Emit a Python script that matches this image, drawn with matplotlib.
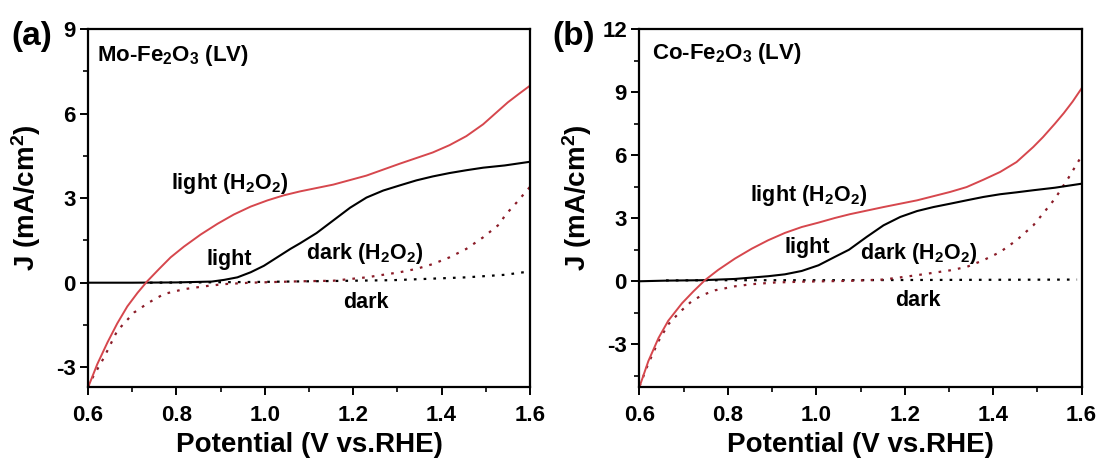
import matplotlib
matplotlib.use("Agg")
import matplotlib.pyplot as plt
from matplotlib.ticker import MultipleLocator

plt.rcParams.update({
    "font.family": "Liberation Sans",
    "font.weight": "bold",
    "mathtext.fontset": "custom",
    "mathtext.rm": "Liberation Sans:bold",
    "mathtext.bf": "Liberation Sans:bold",
    "mathtext.default": "bf",
})

RED = "#d6474d"
DARKRED = "#8b1c28"

# ---- Mo-Fe2O3 (LV) ----
a_v_lh = [0.600, 0.621, 0.644, 0.666, 0.689, 0.712, 0.734, 0.761, 0.787, 0.817, 0.855,
          0.893, 0.930, 0.968, 1.006, 1.043, 1.080, 1.155, 1.230, 1.305, 1.380, 1.418,
          1.456, 1.494, 1.532, 1.550, 1.575, 1.600]
a_light_h2o2 = [-3.72, -2.89, -2.12, -1.45, -0.84, -0.36, 0.05, 0.49, 0.90, 1.28, 1.71,
                2.09, 2.42, 2.70, 2.92, 3.10, 3.24, 3.48, 3.80, 4.22, 4.62, 4.88,
                5.20, 5.62, 6.15, 6.40, 6.70, 6.99]

a_v_l = [0.600, 0.700, 0.800, 0.880, 0.908, 0.938, 0.968, 0.998, 1.028, 1.058, 1.080,
         1.117, 1.155, 1.193, 1.230, 1.268, 1.305, 1.343, 1.380, 1.418, 1.456, 1.494,
         1.543, 1.600]
a_light = [0.00, 0.00, 0.01, 0.04, 0.10, 0.19, 0.37, 0.60, 0.90, 1.20, 1.40,
           1.76, 2.21, 2.66, 3.02, 3.27, 3.45, 3.63, 3.77, 3.89, 3.99, 4.08,
           4.16, 4.29]

a_v_dh = [0.600, 0.606, 0.636, 0.666, 0.704, 0.738, 0.772, 0.817, 0.862, 0.908, 0.968,
          1.080, 1.155, 1.230, 1.305, 1.343, 1.380, 1.418, 1.456, 1.494, 1.532, 1.543,
          1.570, 1.600]
a_dark_h2o2 = [-3.70, -3.49, -2.66, -1.71, -1.06, -0.70, -0.40, -0.23, -0.13, -0.05, 0.00,
               0.05, 0.07, 0.19, 0.37, 0.49, 0.66, 0.90, 1.20, 1.61, 2.09, 2.38,
               2.85, 3.40]

a_v_d = [0.740, 0.850, 1.000, 1.150, 1.290, 1.456, 1.543, 1.600]
a_dark = [0.00, 0.01, 0.03, 0.06, 0.09, 0.19, 0.28, 0.40]

# ---- Co-Fe2O3 (LV) ----
b_v_lh = [0.600, 0.620, 0.643, 0.665, 0.696, 0.722, 0.748, 0.778, 0.816, 0.854, 0.891,
          0.929, 0.967, 1.005, 1.042, 1.076, 1.152, 1.228, 1.303, 1.340, 1.378, 1.416,
          1.453, 1.491, 1.513, 1.540, 1.560, 1.580, 1.600]
b_light_h2o2 = [-5.02, -3.80, -2.70, -1.88, -1.05, -0.48, 0.05, 0.54, 1.08, 1.55, 1.95,
                2.30, 2.58, 2.79, 3.01, 3.19, 3.53, 3.85, 4.25, 4.48, 4.83, 5.20,
                5.67, 6.39, 6.86, 7.50, 8.00, 8.55, 9.17]

b_v_l = [0.600, 0.660, 0.740, 0.816, 0.891, 0.929, 0.967, 1.005, 1.042, 1.074, 1.114,
         1.152, 1.190, 1.228, 1.265, 1.303, 1.340, 1.378, 1.416, 1.453, 1.491, 1.540,
         1.600]
b_light = [0.00, 0.03, 0.05, 0.11, 0.24, 0.33, 0.49, 0.76, 1.16, 1.50, 2.11,
           2.66, 3.06, 3.34, 3.53, 3.69, 3.85, 4.01, 4.14, 4.23, 4.33, 4.45,
           4.64]

b_v_dh = [0.600, 0.620, 0.643, 0.665, 0.692, 0.718, 0.741, 0.771, 0.816, 0.854, 0.906,
          0.967, 1.076, 1.152, 1.228, 1.303, 1.340, 1.378, 1.416, 1.453, 1.491, 1.513,
          1.540, 1.570, 1.600]
b_dark_h2o2 = [-5.00, -3.91, -2.85, -2.05, -1.45, -0.95, -0.67, -0.43, -0.24, -0.14, -0.06,
               -0.02, 0.02, 0.08, 0.29, 0.52, 0.68, 1.00, 1.39, 1.95, 2.66, 3.22,
               3.93, 4.90, 5.95]

b_v_d = [0.660, 0.800, 1.000, 1.200, 1.400, 1.590]
b_dark = [0.04, 0.05, 0.05, 0.06, 0.07, 0.08]

fig = plt.figure(figsize=(11.02, 4.59), dpi=100)
W, H = 1102, 459


def px(x, y):
    return x / W, 1 - y / H


def draw_panel(left, curves, ylim, yticks):
    ax = fig.add_axes([left / W, 1 - 387 / H, 442 / W, 358 / H])
    (v_d, dark), (v_dh, dark_h2o2), (v_l, light), (v_lh, light_h2o2) = curves
    ax.plot(v_d, dark, color="black", lw=1.6, ls=(0, (1.2, 3.2)))
    ax.plot(v_dh, dark_h2o2, color=DARKRED, lw=1.6, ls=(0, (1.2, 3.2)))
    ax.plot(v_l, light, color="black", lw=1.5)
    ax.plot(v_lh, light_h2o2, color=RED, lw=1.4)
    ax.set_xlim(0.6, 1.6)
    ax.set_ylim(*ylim)
    ax.set_xticks([0.6, 0.8, 1.0, 1.2, 1.4, 1.6])
    ax.set_xticklabels(["0.6", "0.8", "1.0", "1.2", "1.4", "1.6"])
    ax.set_yticks(yticks)
    ax.set_yticklabels([str(t) for t in yticks])
    ax.xaxis.set_minor_locator(MultipleLocator(0.1))
    ax.yaxis.set_minor_locator(MultipleLocator(1.5))
    ax.tick_params(which="major", direction="out", length=6, width=1.4,
                   labelsize=16, pad=3)
    ax.tick_params(axis="x", which="major", pad=7)
    ax.tick_params(which="minor", direction="out", length=3.5, width=1.2)
    for s in ax.spines.values():
        s.set_linewidth(1.6)
    ax.set_xlabel("Potential (V vs.RHE)", fontsize=20, fontweight="bold", labelpad=4)
    ax.set_ylabel("J (mA/cm$^2$)", fontsize=20, fontweight="bold")
    ax.yaxis.set_label_coords(-0.102, 0.53)
    return ax


ax_a = draw_panel(88, [(a_v_d, a_dark), (a_v_dh, a_dark_h2o2),
                       (a_v_l, a_light), (a_v_lh, a_light_h2o2)],
                  (-3.7, 9), [-3, 0, 3, 6, 9])
ax_b = draw_panel(639.5, [(b_v_d, b_dark), (b_v_dh, b_dark_h2o2),
                          (b_v_l, b_light), (b_v_lh, b_light_h2o2)],
                  (-5.03, 12), [-3, 0, 3, 6, 9, 12])

h2o2 = "light (H$_2$O$_2$)"
dh2o2 = "dark (H$_2$O$_2$)"
labels = [
    ("(a)", 11, 36, 24),
    ("Mo-Fe$_2$O$_3$ (LV)", 97, 56, 16),
    (h2o2, 171, 184, 15.5),
    ("light", 207, 260, 15.5),
    (dh2o2, 306, 254, 15.5),
    ("dark", 343, 303, 15.5),
    ("(b)", 552, 36, 24),
    ("Co-Fe$_2$O$_3$ (LV)", 652, 54, 16),
    (h2o2, 750, 196, 15.5),
    ("light", 785, 247, 15.5),
    (dh2o2, 860, 253, 15.5),
    ("dark", 895, 300, 15.5),
]
for text, x, y, size in labels:
    fig.text(*px(x, y), text, fontsize=size, fontweight="bold",
             ha="left", va="center")

fig.savefig("out.png", dpi=100)
